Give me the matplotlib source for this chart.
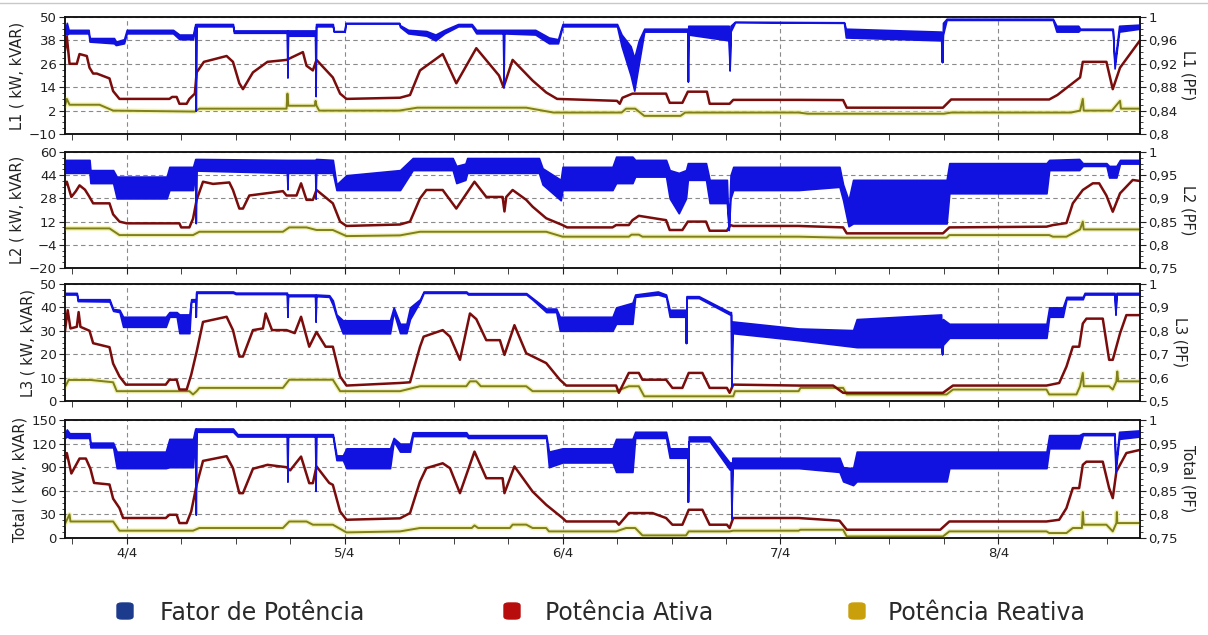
import matplotlib
matplotlib.use("Agg")
import matplotlib.pyplot as plt
import matplotlib.patheffects as pe
from matplotlib.ticker import FixedLocator, MultipleLocator, AutoMinorLocator, FuncFormatter
from matplotlib.patches import FancyBboxPatch
from matplotlib.lines import Line2D

# Horas contadas a partir de 4/4 00:00
inicio, fim = -6.8, 111.6
dias = [0, 24, 48, 72, 96]
rotulos_dias = ["4/4", "5/4", "6/4", "7/4", "8/4"]

# ---------------- L1 ----------------
ativa_L1 = [(-6.8, 33), (-6.6, 40), (-6.3, 26), (-5.5, 26), (-5.2, 31), (-4.4, 30), (-4.1, 24), (-3.7, 21),
            (-3.3, 21), (-1.9, 18.5), (-1.5, 12), (-0.8, 8), (4.7, 8), (5.0, 9), (5.5, 9), (5.8, 5.5), (6.6, 5.5),
            (6.9, 8), (7.5, 10.7), (7.7, 21.6), (8.5, 27), (11.0, 30), (11.7, 27), (12.4, 16), (12.8, 13),
            (13.9, 21.6), (15.5, 27), (17.6, 28), (19.4, 32), (19.8, 25), (20.5, 22.6), (20.9, 28), (22.7, 19),
            (23.5, 10.7), (24.2, 8), (30.1, 8.6), (31.2, 10), (32.3, 22.6), (34.8, 31), (36.3, 16), (38.5, 34),
            (41.0, 20), (41.5, 14), (42.5, 28), (44.7, 17.4), (46.2, 11.3), (47.4, 8), (54.0, 7), (54.3, 5.5),
            (54.6, 8.6), (55.7, 10.7), (59.4, 10.7), (59.8, 6), (61.2, 6), (61.8, 11.7), (63.9, 11.7), (64.2, 5.5),
            (66.4, 5.5), (66.8, 7.5), (74, 7.5), (78.9, 7.4), (79.3, 3.5), (89.9, 3.5), (90.8, 7.7), (101.6, 7.7),
            (102.5, 10), (105.0, 19), (105.3, 27), (107.9, 27), (108.6, 13), (109.4, 24), (111.6, 38)]
reativa_L1 = [(-6.8, 4.5), (-6.6, 8), (-6.3, 5), (-3.0, 5), (-1.5, 2), (7.5, 1.5), (8, 3), (17.6, 3), (17.7, 10.7),
              (17.8, 4.5), (20.7, 4.5), (20.8, 7), (20.9, 4.5), (21.2, 2), (30, 2), (32, 3.5), (44, 3.5), (47, 1),
              (54.5, 1), (55, 3), (56, 3), (57, -0.7), (61, -0.7), (61.5, 1), (74, 1), (75, 0.4), (90, 0.4),
              (90.8, 1), (104, 1), (105, 2), (105.3, 8), (105.4, 2), (108.5, 2), (109.4, 7), (109.5, 3), (111.6, 3)]
fp_L1 = [(-6.8, 0.972, 0.978), (-6.6, 0.970, 0.990), (-6.4, 0.972, 0.978), (-4.2, 0.972, 0.978),
         (-4.1, 0.958, 0.964), (-1.4, 0.955, 0.964), (-1.2, 0.952, 0.958), (-0.3, 0.955, 0.962),
         (0.0, 0.972, 0.978), (5.1, 0.972, 0.978), (5.8, 0.962, 0.970), (7.3, 0.962, 0.970),
         (7.55, 0.984, 0.988), (7.6, 0.840, 0.840), (7.65, 0.984, 0.988), (11.7, 0.984, 0.988),
         (11.8, 0.973, 0.977), (17.65, 0.973, 0.977), (17.7, 0.897, 0.897), (17.75, 0.968, 0.977),
         (20.75, 0.968, 0.977), (20.8, 0.865, 0.865), (20.85, 0.984, 0.988), (22.7, 0.984, 0.988),
         (22.8, 0.975, 0.976), (24.0, 0.975, 0.976), (24.1, 0.989, 0.990), (30.0, 0.989, 0.990),
         (30.1, 0.983, 0.986), (31.0, 0.972, 0.978), (33.0, 0.968, 0.976), (34.0, 0.960, 0.970),
         (35.0, 0.972, 0.978), (36.5, 0.984, 0.988), (38.0, 0.984, 0.988), (38.5, 0.972, 0.978),
         (41.45, 0.972, 0.978), (41.5, 0.880, 0.880), (41.55, 0.972, 0.978), (45.0, 0.970, 0.978),
         (46.5, 0.955, 0.965), (47.5, 0.955, 0.962), (48.0, 0.984, 0.988), (54.0, 0.984, 0.988),
         (54.5, 0.950, 0.970), (55.5, 0.900, 0.950), (55.9, 0.874, 0.930), (56.4, 0.920, 0.960),
         (57.0, 0.975, 0.980), (61.75, 0.975, 0.980), (61.8, 0.890, 0.890), (61.85, 0.970, 0.985),
         (66.3, 0.960, 0.985), (66.4, 0.909, 0.909), (66.5, 0.975, 0.985), (67.0, 0.991, 0.992),
         (79.0, 0.990, 0.991), (79.2, 0.965, 0.980), (89.7, 0.960, 0.975), (89.8, 0.923, 0.923),
         (89.9, 0.970, 0.990), (90.3, 0.995, 0.997), (102.0, 0.995, 0.997), (102.4, 0.975, 0.985),
         (104.8, 0.975, 0.985), (105.0, 0.978, 0.980), (108.6, 0.978, 0.980), (108.8, 0.912, 0.920),
         (109.3, 0.975, 0.985), (111.6, 0.980, 0.987)]

# ---------------- L2 ----------------
ativa_L2 = [(-6.8, 37), (-6.6, 39.5), (-6.1, 29), (-5.6, 33), (-5.2, 37), (-4.6, 34), (-4.1, 29), (-3.7, 24.6),
            (-1.9, 24.6), (-1.5, 17), (-0.8, 12), (0, 10.8), (5.8, 10.8), (6.0, 8), (6.9, 8), (7.3, 14), (7.7, 27),
            (8.4, 39.5), (9.5, 38), (11.3, 39), (11.7, 33.8), (12.4, 21), (12.8, 21), (13.5, 30), (17.2, 33),
            (17.6, 30), (18.7, 30), (19.2, 38.4), (19.8, 27), (20.5, 27), (20.9, 33.8), (22.7, 24.6), (23.5, 12),
            (24.2, 9), (30.1, 10), (31.2, 12), (32.3, 28), (33, 33.8), (34.8, 33.8), (36.3, 21), (38.3, 39.5),
            (39.6, 29), (41.4, 29), (41.6, 19), (41.8, 29), (42.5, 33.8), (44, 27), (44.7, 22.3), (46.2, 14.3),
            (48, 9.6), (48.5, 8), (53.5, 8), (53.9, 9.6), (55.3, 9.6), (55.7, 13), (56.4, 16), (59.4, 13),
            (59.8, 6.2), (61.2, 6.2), (61.8, 12), (63.8, 12), (64.2, 5.7), (66.1, 5.7), (66.5, 9.6), (66.8, 9),
            (74, 9), (78.9, 8), (79.3, 3.9), (89.9, 3.9), (90.6, 8), (101.3, 8.5), (102, 9.6), (103.5, 11),
            (104.2, 24.6), (105.3, 33.8), (106.4, 38.4), (107.1, 38.4), (107.9, 30), (108.6, 18.8),
            (109.4, 31.5), (110.8, 40.7), (111.6, 40)]
reativa_L2 = [(-6.8, 7.3), (-1.9, 7.3), (-0.8, 2.7), (7.3, 2.7), (8, 5), (17.2, 5), (17.9, 8), (19.8, 8),
              (20.9, 6.2), (22.7, 6.2), (24.2, 2), (30.1, 2.5), (32.3, 5), (46.2, 5), (48, 1.6), (55.3, 1.6),
              (55.6, 3), (56.4, 3), (56.8, 1.6), (74, 1.6), (79, 0.9), (90.3, 0.9), (90.6, 2.7), (101.6, 2.7),
              (102, 1.6), (103.5, 1.6), (105, 6.6), (105.3, 12), (105.4, 6.6), (111.6, 6.6)]
fp_L2 = [(-6.8, 0.955, 0.983), (-4.1, 0.955, 0.983), (-4.0, 0.933, 0.961), (-1.5, 0.933, 0.961),
         (-1.1, 0.900, 0.947), (4.4, 0.900, 0.947), (4.7, 0.918, 0.968), (7.3, 0.918, 0.968),
         (7.55, 0.960, 0.985), (7.6, 0.847, 0.847), (7.65, 0.960, 0.985), (17.65, 0.955, 0.983),
         (17.7, 0.920, 0.920), (17.75, 0.955, 0.983), (20.75, 0.955, 0.983), (20.8, 0.900, 0.900),
         (20.85, 0.955, 0.985), (22.7, 0.955, 0.983), (23.1, 0.918, 0.930), (24.2, 0.918, 0.950),
         (30.1, 0.918, 0.961), (31.5, 0.961, 0.987), (35.9, 0.961, 0.987), (36.3, 0.933, 0.970),
         (37.3, 0.940, 0.975), (37.5, 0.955, 0.987), (45.4, 0.955, 0.987), (45.8, 0.930, 0.965),
         (47.8, 0.896, 0.940), (48.0, 0.918, 0.968), (53.5, 0.918, 0.968), (53.9, 0.933, 0.990),
         (55.7, 0.933, 0.990), (56.0, 0.947, 0.983), (59.4, 0.947, 0.983), (59.8, 0.900, 0.961),
         (60.8, 0.868, 0.955), (61.6, 0.900, 0.961), (61.8, 0.940, 0.976), (63.8, 0.940, 0.976),
         (64.2, 0.890, 0.940), (66.1, 0.890, 0.940), (66.3, 0.832, 0.832), (66.5, 0.900, 0.950),
         (66.8, 0.918, 0.968), (74.0, 0.918, 0.968), (78.5, 0.925, 0.968), (78.9, 0.896, 0.930),
         (79.5, 0.840, 0.896), (80.0, 0.846, 0.940), (90.3, 0.846, 0.940), (90.6, 0.911, 0.976),
         (101.3, 0.911, 0.976), (101.6, 0.961, 0.983), (104.9, 0.961, 0.985), (105.3, 0.970, 0.976),
         (107.9, 0.970, 0.976), (108.2, 0.945, 0.970), (109.0, 0.945, 0.970), (109.4, 0.975, 0.983),
         (111.6, 0.975, 0.983)]

# ---------------- L3 ----------------
ativa_L3 = [(-6.8, 30), (-6.5, 38.8), (-6.2, 31), (-5.5, 31.7), (-5.3, 38), (-5.1, 31.7), (-4.1, 30),
            (-3.7, 24.7), (-1.9, 23), (-1.5, 16), (-0.8, 10.5), (-0.1, 7), (4.3, 7), (4.7, 9.1), (5.5, 9.1),
            (5.8, 4.9), (6.6, 4.9), (7.1, 11.2), (7.7, 21.1), (8.4, 33.8), (11.0, 36), (11.7, 30.3), (12.4, 19),
            (12.8, 19), (13.9, 30.3), (15.0, 31), (15.3, 37.4), (16.0, 30.3), (17.6, 30.3), (18.5, 29),
            (19.2, 36), (20.1, 23.2), (20.9, 29.5), (21.9, 23.2), (22.7, 23.2), (23.5, 10.5), (24.2, 6.6),
            (30.1, 7.7), (31.2, 8), (32.3, 23.2), (32.7, 27.5), (34.8, 30.3), (35.6, 27.5), (36.7, 17.6),
            (37.8, 37.4), (38.5, 35), (39.6, 26), (41.1, 26), (41.6, 19.7), (42.7, 32.4), (44, 20.4),
            (46.2, 16.2), (47.7, 9.1), (48.4, 6.6), (53.9, 6.6), (54.2, 3.5), (55.3, 12), (56.4, 12),
            (56.8, 9.1), (59.4, 9.1), (60.1, 5.6), (61.2, 5.6), (61.9, 12), (63.4, 12), (64.2, 5.6),
            (66.1, 5.6), (66.4, 3.5), (66.8, 7), (74, 6.6), (77.8, 6.6), (78.9, 3.5), (89.9, 3.5), (91, 6.6),
            (101.3, 6.6), (102.7, 7.7), (103.5, 14.7), (104.2, 23.2), (104.9, 23.2), (105.3, 33.1),
            (105.7, 35.2), (107.5, 35.2), (108.2, 17.6), (108.6, 17.6), (109.4, 28.9), (110.1, 36.7),
            (111.6, 36.7)]
reativa_L3 = [(-6.8, 6), (-6.4, 9), (-4, 9), (-1.5, 8), (-1.1, 4.2), (6.9, 4.2), (7.3, 2.8), (7.7, 4.2),
              (8, 5.6), (17.2, 5.6), (17.9, 9.1), (22.7, 9.1), (23.5, 4.2), (30.1, 4.2), (32.3, 6.3),
              (37.4, 6.3), (37.8, 8.4), (38.5, 8.4), (39, 6.3), (44, 6.3), (44.7, 4.2), (53.9, 4.2),
              (55.3, 6.3), (56.4, 6.3), (57, 2), (66.8, 2), (67, 4.2), (74, 4.2), (74.2, 5.6), (78.9, 5.6),
              (79.3, 2.8), (90.3, 2.8), (91, 4.9), (101.3, 4.9), (101.6, 2.8), (104.6, 2.8), (105, 6.3),
              (105.3, 12), (105.4, 6.3), (108.2, 6.3), (108.6, 4.9), (109, 8.4), (109.1, 12.6), (109.2, 8.4),
              (111.6, 8.4)]
fp_L3 = [(-6.8, 0.955, 0.962), (-5.5, 0.955, 0.962), (-5.4, 0.927, 0.935), (-1.9, 0.925, 0.935),
         (-1.5, 0.885, 0.893), (-0.8, 0.880, 0.890), (-0.4, 0.817, 0.860), (4.3, 0.817, 0.860),
         (4.7, 0.860, 0.880), (5.5, 0.860, 0.880), (5.8, 0.790, 0.870), (6.9, 0.790, 0.870),
         (7.1, 0.925, 0.935), (7.55, 0.925, 0.935), (7.6, 0.860, 0.860), (7.65, 0.962, 0.968),
         (11.7, 0.962, 0.968), (12.0, 0.957, 0.963), (17.65, 0.957, 0.963), (17.7, 0.860, 0.860),
         (17.75, 0.948, 0.955), (20.75, 0.948, 0.955), (20.8, 0.840, 0.840), (20.85, 0.948, 0.955),
         (22.3, 0.945, 0.952), (22.7, 0.910, 0.930), (23.1, 0.860, 0.870), (23.8, 0.789, 0.845),
         (29.0, 0.789, 0.845), (29.4, 0.880, 0.900), (30.1, 0.790, 0.830), (30.8, 0.790, 0.830),
         (31.2, 0.850, 0.900), (32.3, 0.925, 0.935), (32.7, 0.962, 0.968), (37.4, 0.962, 0.968),
         (37.6, 0.955, 0.961), (44.0, 0.955, 0.961), (44.7, 0.933, 0.940), (46.2, 0.880, 0.895),
         (47.3, 0.880, 0.895), (47.7, 0.800, 0.860), (53.5, 0.800, 0.860), (53.9, 0.830, 0.900),
         (55.7, 0.830, 0.920), (56.0, 0.945, 0.955), (58.5, 0.955, 0.968), (59.4, 0.945, 0.955),
         (59.8, 0.860, 0.890), (61.55, 0.860, 0.890), (61.6, 0.748, 0.748), (61.65, 0.940, 0.948),
         (63.0, 0.940, 0.948), (66.4, 0.870, 0.880), (66.55, 0.870, 0.880), (66.6, 0.563, 0.563),
         (66.7, 0.790, 0.840), (74.0, 0.760, 0.810), (80.0, 0.732, 0.803), (80.4, 0.730, 0.850),
         (89.7, 0.730, 0.870), (89.8, 0.700, 0.700), (89.9, 0.740, 0.850), (90.6, 0.770, 0.830),
         (101.3, 0.770, 0.830), (101.6, 0.860, 0.900), (103.1, 0.860, 0.900), (103.5, 0.935, 0.945),
         (105.3, 0.935, 0.945), (105.5, 0.955, 0.962), (108.8, 0.955, 0.962), (108.9, 0.870, 0.870),
         (109.0, 0.955, 0.962), (111.6, 0.955, 0.962)]

# ---------------- Total ----------------
ativa_T = [(-6.8, 100), (-6.6, 108), (-6.1, 82), (-5.2, 101), (-4.5, 101), (-4.0, 88), (-3.6, 70), (-1.9, 68),
           (-1.5, 50), (-0.8, 38), (-0.4, 25.4), (4.3, 25.4), (4.7, 29.5), (5.5, 29.5), (5.8, 19), (6.6, 19),
           (7.1, 33.7), (7.7, 67.6), (8.4, 98), (11, 104), (11.7, 88.8), (12.4, 57), (12.8, 57), (13.9, 88),
           (15.5, 93), (17.6, 90), (18, 86), (19.2, 103.5), (20.1, 69.7), (20.5, 69.7), (20.9, 91), (22.3, 70),
           (22.7, 67.6), (23.5, 33.7), (24.2, 23.2), (30.1, 25), (31.2, 31.7), (32.3, 71.8), (33, 88.8),
           (34.8, 95), (35.6, 88.8), (36.7, 57), (38.3, 109.8), (39.6, 76), (41.4, 76), (41.6, 57), (42.7, 91),
           (44.7, 59), (46.2, 42.2), (48, 25.4), (48.4, 21), (53.9, 21), (54.2, 16.9), (55.3, 31.7),
           (57.9, 31.7), (59.4, 25.4), (60.1, 16.9), (61.2, 16.9), (61.9, 35.9), (63.4, 35.9), (64.2, 16.9),
           (66.1, 16.9), (66.4, 12.7), (66.8, 25.4), (74, 25.4), (78.5, 22), (79.3, 10.5), (89.6, 10.5),
           (90.6, 21), (101.3, 21), (102.7, 23.2), (103.5, 38), (104.2, 63.4), (104.9, 63.4), (105.3, 93),
           (105.7, 97), (107.5, 97), (108.2, 63.4), (108.6, 50.7), (109, 84.5), (110.1, 108), (111.6, 112)]
reativa_T = [(-6.8, 18), (-6.3, 30), (-6.2, 21), (-1.5, 21), (-0.8, 9.3), (7.3, 9.3), (8, 12.7), (17.2, 12.7),
             (17.9, 21), (19.8, 21), (20.5, 16.9), (22.7, 16.9), (24.2, 7.1), (30.1, 8.4), (32.3, 12.7),
             (38, 12.7), (38.3, 16), (38.7, 12.7), (42.2, 12.7), (42.5, 17), (44, 17), (44.7, 12.7),
             (46.2, 12.7), (46.5, 8.4), (53.9, 8.4), (55, 12.7), (56, 12.7), (56.8, 3.3), (61.6, 3.3),
             (61.9, 8.4), (66.4, 8.4), (66.8, 9.3), (74, 9.3), (74.2, 10.5), (78.9, 10.5), (79.3, 2),
             (89.9, 2), (90.6, 8.4), (101.3, 8.4), (101.6, 6.3), (103.5, 6.3), (104.2, 12.7), (105.2, 12.7),
             (105.3, 33), (105.4, 16.9), (107.9, 16.9), (108.6, 8.4), (109, 19), (109.05, 33), (109.1, 19),
             (111.6, 19)]
fp_T = [(-6.8, 0.962, 0.972), (-6.6, 0.965, 0.980), (-6.3, 0.962, 0.972), (-4.1, 0.962, 0.972),
        (-4.0, 0.942, 0.952), (-1.5, 0.942, 0.952), (-1.1, 0.898, 0.933), (4.3, 0.898, 0.933),
        (4.7, 0.900, 0.960), (7.3, 0.900, 0.960), (7.55, 0.975, 0.982), (7.6, 0.800, 0.800),
        (7.65, 0.975, 0.982), (11.7, 0.975, 0.982), (12.2, 0.965, 0.970), (17.65, 0.965, 0.970),
        (17.7, 0.870, 0.870), (17.75, 0.965, 0.970), (20.75, 0.965, 0.970), (20.8, 0.850, 0.850),
        (20.85, 0.965, 0.970), (22.7, 0.965, 0.970), (23.1, 0.915, 0.925), (23.8, 0.915, 0.925),
        (24.2, 0.898, 0.940), (29.0, 0.898, 0.940), (29.4, 0.955, 0.962), (30.1, 0.933, 0.950),
        (31.2, 0.933, 0.950), (31.5, 0.966, 0.974), (37.4, 0.966, 0.974), (37.6, 0.962, 0.968),
        (46.2, 0.962, 0.968), (46.5, 0.900, 0.933), (48.0, 0.910, 0.940), (53.5, 0.910, 0.940),
        (53.9, 0.890, 0.960), (55.7, 0.890, 0.960), (56.0, 0.962, 0.975), (59.4, 0.962, 0.975),
        (59.8, 0.920, 0.940), (61.75, 0.920, 0.940), (61.8, 0.827, 0.827), (61.9, 0.955, 0.965),
        (64.2, 0.955, 0.965), (66.4, 0.895, 0.910), (66.55, 0.895, 0.910), (66.6, 0.792, 0.792),
        (66.7, 0.898, 0.920), (74.0, 0.898, 0.920), (78.5, 0.890, 0.920), (78.9, 0.870, 0.900),
        (80.0, 0.862, 0.898), (80.4, 0.870, 0.933), (90.3, 0.870, 0.933), (90.6, 0.898, 0.933),
        (101.3, 0.898, 0.933), (101.6, 0.940, 0.968), (104.9, 0.940, 0.968), (105.3, 0.968, 0.972),
        (108.8, 0.968, 0.972), (108.9, 0.890, 0.900), (109.3, 0.960, 0.975), (111.6, 0.965, 0.978)]

paineis = [
    ("L1", ativa_L1, reativa_L1, fp_L1, [-10, 2, 14, 26, 38, 50], [0.8, 0.84, 0.88, 0.92, 0.96, 1.0]),
    ("L2", ativa_L2, reativa_L2, fp_L2, [-20, -4, 12, 28, 44, 60], [0.75, 0.8, 0.85, 0.9, 0.95, 1.0]),
    ("L3", ativa_L3, reativa_L3, fp_L3, [0, 10, 20, 30, 40, 50], [0.5, 0.6, 0.7, 0.8, 0.9, 1.0]),
    ("Total", ativa_T, reativa_T, fp_T, [0, 30, 60, 90, 120, 150], [0.75, 0.8, 0.85, 0.9, 0.95, 1.0]),
]

COR_FP = "#1212e0"
COR_ATIVA = "#7a0c0c"
COR_REATIVA = "#7f7f1c"
COR_GRADE = "#8a8a8a"

W, H = 1208, 635
fig = plt.figure(figsize=(W / 100, H / 100), dpi=100)
fig.patch.set_facecolor("white")

x0, x1 = 65, 1140
faixas = [(17, 134), (152, 268), (284, 401), (420, 538)]

virgula = FuncFormatter(lambda v, _: f"{v:g}".replace(".", ","))
halo = [pe.Stroke(linewidth=3.4, foreground="#eeee9a", alpha=0.75), pe.Normal()]

for i, (nome, ativa, reativa, fp, kw_ticks, fp_ticks) in enumerate(paineis):
    top, bot = faixas[i]
    ax = fig.add_axes([x0 / W, 1 - bot / H, (x1 - x0) / W, (bot - top) / H])
    ax2 = ax.twinx()

    ta, va = zip(*ativa)
    tr, vr = zip(*reativa)
    tf, lo, hi = zip(*fp)

    ax.plot(tr, vr, color=COR_REATIVA, lw=1.4, path_effects=halo, zorder=3)
    ax.plot(ta, va, color=COR_ATIVA, lw=1.8, zorder=4)
    ax2.fill_between(tf, lo, hi, facecolor=COR_FP, edgecolor=COR_FP, lw=1.2)

    ax.set_xlim(inicio, fim)
    ax.set_ylim(kw_ticks[0], kw_ticks[-1])
    ax2.set_ylim(fp_ticks[0], fp_ticks[-1])

    ax.yaxis.set_major_locator(FixedLocator(kw_ticks))
    ax.yaxis.set_minor_locator(AutoMinorLocator(4))
    ax2.yaxis.set_major_locator(FixedLocator(fp_ticks))
    ax2.yaxis.set_minor_locator(AutoMinorLocator(4))
    ax2.yaxis.set_major_formatter(virgula)

    ax.xaxis.set_major_locator(FixedLocator(dias))
    ax.xaxis.set_minor_locator(MultipleLocator(6))
    if i == len(paineis) - 1:
        ax.set_xticklabels(rotulos_dias)
    else:
        ax.set_xticklabels([])

    ax.grid(True, which="major", axis="both", color=COR_GRADE, lw=0.8, ls=(0, (4, 3)))
    ax.set_axisbelow(True)

    for a in (ax, ax2):
        a.tick_params(which="major", length=4, width=0.8, labelsize=9.5, colors="#222222", pad=2)
        a.tick_params(which="minor", length=2, width=0.6, colors="#222222")
        for s in a.spines.values():
            s.set_linewidth(1.1)
            s.set_color("#111111")
    ax.tick_params(axis="x", which="minor", length=4)

    ax.set_ylabel(f"{nome} ( kW, kVAR)", fontsize=10.5, color="#222222", labelpad=3)
    ax2.set_ylabel(f"{nome} (PF)", fontsize=10.5, color="#222222", rotation=-90, labelpad=13)

# linha de contorno superior
fig.add_artist(Line2D([0, 1], [1 - 3 / H, 1 - 3 / H], color="#c8c8c8", lw=1.0))

# legenda
itens = [("Fator de Potência", "#1d3b8c", 125, 160),
         ("Potência Ativa", "#b80d0d", 512, 545),
         ("Potência Reativa", "#c9a00c", 857, 888)]
for texto, cor, xq, xt in itens:
    lado = 16
    fig.add_artist(FancyBboxPatch(((xq - lado / 2) / W, 1 - (611 + lado / 2) / H), lado / W, lado / H,
                                  boxstyle="round,pad=0,rounding_size=0.004", facecolor=cor,
                                  edgecolor=cor, transform=fig.transFigure))
    fig.text(xt / W, 1 - 613 / H, texto, fontsize=17, color="#2a2a2a", va="center", ha="left",
             family="DejaVu Sans")

fig.savefig("out.png", dpi=100)
